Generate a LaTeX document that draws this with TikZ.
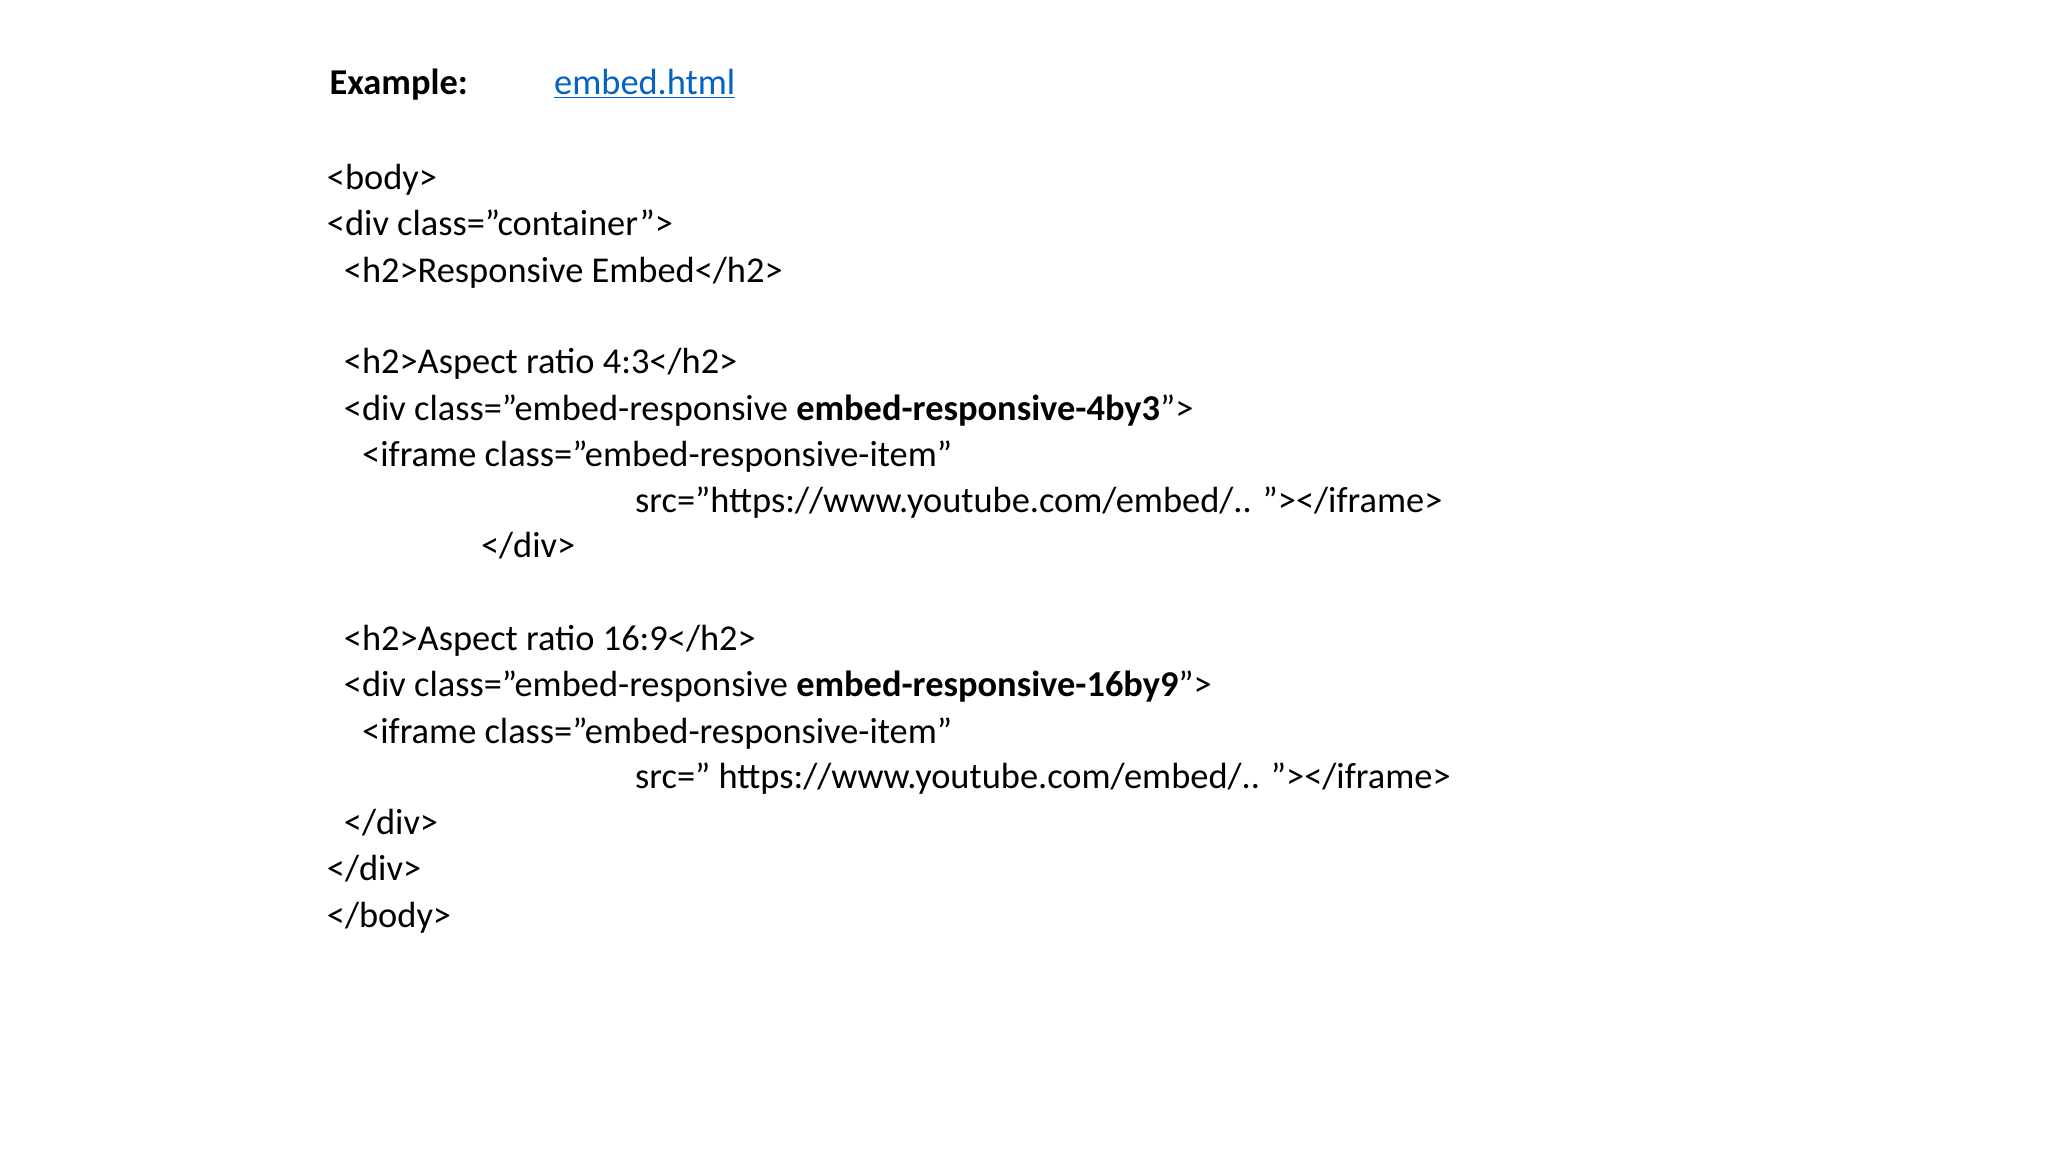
\documentclass[tikz,border=0pt]{standalone}
\usepackage{fontspec}
\setmainfont{Carlito}
\begin{document}
\begin{tikzpicture}[x=0.6531pt,y=-0.6531pt,
  code/.style={anchor=base west,inner sep=0pt,font=\fontsize{18.2}{22}\selectfont}]
\useasboundingbox[fill=white] (0,0) rectangle (1568,882);
\node[code] (ex) at (252,72) {\textbf{Example:}};
\node[code,text={rgb,255:red,5;green,99;blue,193}] (lnk) at (424,72) {\underline{embed.html}};
\node[code] (l1) at (250,145) {<body>};
\node[code] (l2) at (250,180) {<div class="container">};
\node[code] (l3) at (263,216) {<h2>Responsive Embed</h2>};
\node[code] (l4) at (263,286) {<h2>Aspect ratio 4:3</h2>};
\node[code] (l5) at (263,322) {<div class="embed-responsive \textbf{embed-responsive-4by3}">};
\node[code] (l6) at (277,357) {<iframe class="embed-responsive-item"};
\node[code] (l7) at (486,392) {src="https://www.youtube.com/embed/.. "></iframe>};
\node[code] (l8) at (368,427) {</div>};
\node[code] (l9) at (263,498) {<h2>Aspect ratio 16:9</h2>};
\node[code] (l10) at (263,533) {<div class="embed-responsive \textbf{embed-responsive-16by9}">};
\node[code] (l11) at (277,569) {<iframe class="embed-responsive-item"};
\node[code] (l12) at (486,604) {src=" https://www.youtube.com/embed/.. "></iframe>};
\node[code] (l13) at (263,639) {</div>};
\node[code] (l14) at (250,674) {</div>};
\node[code] (l15) at (250,710) {</body>};
\end{tikzpicture}
\end{document}
